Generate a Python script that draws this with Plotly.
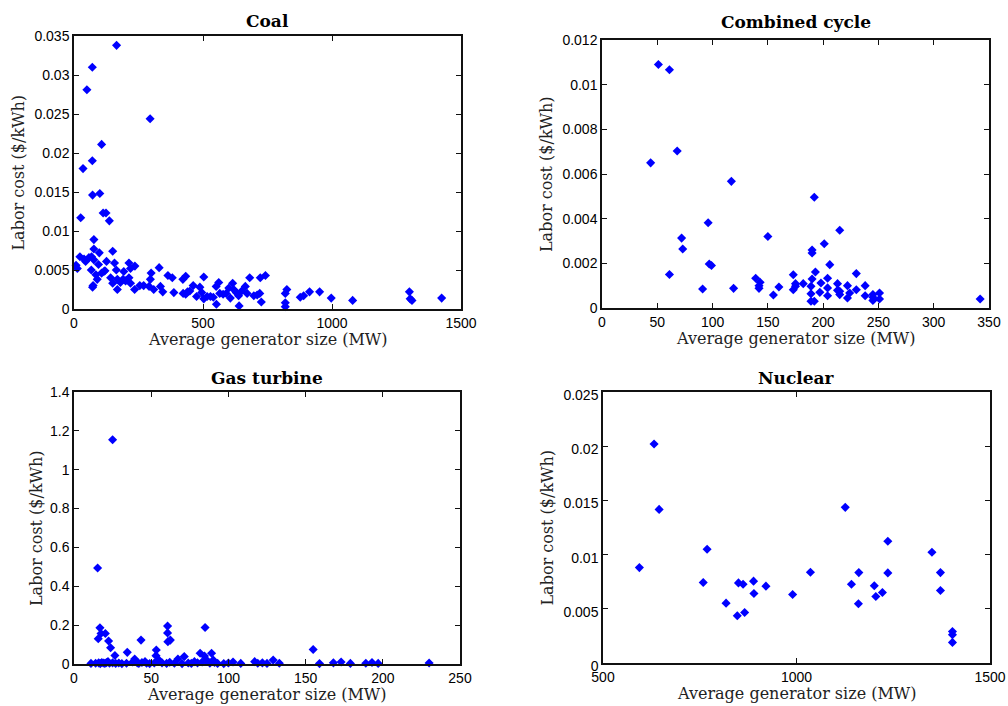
import plotly.graph_objects as go

# Coal plants: average generator size (MW) and labor cost ($/kWh)
coal_size = [165, 71, 50, 295, 107, 35, 71, 72, 100, 26, 113, 124, 137, 77, 77, 98, 150,
             13, 23, 39, 58, 68, 77, 67, 95, 90, 72, 74, 126, 116, 107, 157, 164, 142, 150,
             168, 168, 190, 193, 213, 219, 236, 213, 219, 235, 255, 291, 299, 296, 309, 330,
             335, 344, 364, 381, 387, 422, 433, 423, 433, 449, 462, 475, 488, 495, 503, 503,
             516, 529, 551, 552, 561, 565, 578, 600, 606, 615, 619, 629, 640, 638, 664, 671,
             681, 697, 720, 726, 722, 742, 819, 825, 819, 819, 877, 890, 913, 952, 997, 1080,
             1300, 1303, 1310, 1425, 8, 45, 85, 120, 180, 200, 270, 440, 540, 590, 650, 710]
coal_cost = [0.0338, 0.0310, 0.0281, 0.0244, 0.0211, 0.0180, 0.0190, 0.0146, 0.0148, 0.0117,
             0.0123, 0.0123, 0.0113, 0.0089, 0.0077, 0.0072, 0.0074,
             0.0052, 0.0067, 0.0064, 0.0066, 0.0067, 0.0063, 0.0050, 0.0057, 0.0038, 0.0028,
             0.0030, 0.0061, 0.0048, 0.0046, 0.0059, 0.0050, 0.0040, 0.0033, 0.0025, 0.0038,
             0.0038, 0.0048, 0.0059, 0.0052, 0.0055, 0.0040, 0.0033, 0.0025, 0.0030, 0.0029,
             0.0046, 0.0038, 0.0025, 0.0053, 0.0029, 0.0022, 0.0043, 0.0040, 0.0021, 0.0038,
             0.0042, 0.0020, 0.0019, 0.0023, 0.0030, 0.0016, 0.0028, 0.0021, 0.0041, 0.0013,
             0.0016, 0.0016, 0.0029, 0.0006, 0.0034, 0.0020, 0.0019, 0.0027, 0.0014, 0.0033,
             0.0025, 0.0021, 0.0004, 0.0017, 0.0029, 0.0020, 0.0040, 0.0017, 0.0020, 0.0009,
             0.0040, 0.0043, 0.0020, 0.0025, 0.0008, 0.0003, 0.0015, 0.0017, 0.0022, 0.0022,
             0.0014, 0.0011, 0.0022, 0.0013, 0.0011, 0.0014, 0.0056, 0.0061, 0.0044, 0.0049,
             0.0034, 0.0036, 0.0030, 0.0022, 0.0015, 0.0020, 0.0023, 0.0018]

# Combined cycle plants
cc_size = [44, 51, 61, 68, 61, 72, 73, 91, 96, 97, 99, 117, 119, 139, 142, 142, 143, 150,
           155, 160, 173, 173, 175, 175, 182, 190, 190, 190, 189, 189, 189, 192, 192, 193,
           197, 198, 201, 206, 204, 204, 204, 213, 213, 215, 215, 215, 222, 222, 224, 230,
           230, 238, 238, 245, 245, 251, 251, 342, 245]
cc_cost = [0.0065, 0.0109, 0.01067, 0.00703, 0.0015, 0.00313, 0.00264, 0.00085, 0.00382,
           0.00197, 0.0019, 0.00567, 0.00088, 0.00133, 0.00088, 0.0010, 0.00115, 0.0032,
           0.00058, 0.00094, 0.00149, 0.00082, 0.00097, 0.00109, 0.00109, 0.0013, 0.00246,
           0.0026, 0.00097, 0.00064, 0.0003, 0.00496, 0.0003, 0.00161, 0.0007, 0.00112,
           0.00288, 0.00194, 0.00133, 0.0009, 0.00055, 0.00109, 0.00079, 0.00348, 0.00075,
           0.0006, 0.0010, 0.00045, 0.00067, 0.00154, 0.00082, 0.0010, 0.00055, 0.00048,
           0.00034, 0.00067, 0.0004, 0.0004, 0.0006]

# Gas turbine plants
gt_size = [25, 15.3, 16.8, 15.7, 17.5, 20.3, 22.4, 23.7, 26.5, 34.5, 39.3, 43.4, 53.3, 53.1,
           60.6, 60.6, 60.8, 62.4, 67.3, 71.4, 81.7, 84.9, 84.5, 85.9, 89.1, 90.2, 129, 154.9,
           11, 14, 16, 17, 18, 19, 20, 21, 22, 23, 25, 27, 29, 31, 34, 38, 40, 41, 42, 44,
           46, 47, 49, 52, 55, 57, 60, 62, 65, 70, 74, 76, 78, 80, 83, 86, 88, 91, 93, 97,
           100, 103, 108, 117, 119, 122, 125, 133, 159, 168, 173, 179, 189, 193, 197, 230]
gt_cost = [1.154, 0.494, 0.186, 0.130, 0.157, 0.157, 0.118, 0.084, 0.044, 0.060, 0.026, 0.123,
           0.072, 0.043, 0.195, 0.160, 0.115, 0.123, 0.026, 0.038, 0.055, 0.188, 0.041, 0.020,
           0.055, 0.020, 0.020, 0.075,
           0.003, 0.004, 0.006, 0.002, 0.008, 0.005, 0.003, 0.007, 0.012, 0.004, 0.006, 0.003,
           0.005, 0.002, 0.004, 0.010, 0.015, 0.006, 0.003, 0.008, 0.012, 0.004, 0.002, 0.005,
           0.020, 0.006, 0.003, 0.009, 0.004, 0.002, 0.005, 0.003, 0.012, 0.006, 0.010, 0.015,
           0.004, 0.008, 0.003, 0.002, 0.005, 0.010, 0.003, 0.012, 0.004, 0.006, 0.003, 0.004,
           0.002, 0.006, 0.010, 0.003, 0.004, 0.008, 0.003, 0.005]

# Nuclear plants
nuc_size = [594, 632, 645, 759, 769, 818, 847, 850, 862, 866, 889, 890, 921, 990, 1036, 1126,
            1142, 1161, 1160, 1201, 1205, 1222, 1236, 1236, 1350, 1372, 1372, 1403, 1403, 1403]
nuc_cost = [0.0088, 0.0202, 0.01417, 0.00742, 0.01049, 0.00552, 0.00436, 0.00739, 0.00727,
            0.00466, 0.00755, 0.00641, 0.00709, 0.00632, 0.00837, 0.01436, 0.00727, 0.00834,
            0.00546, 0.00712, 0.00613, 0.0065, 0.01123, 0.00831, 0.01021, 0.00834, 0.00669,
            0.00291, 0.0026, 0.0019]

W, H = 1008, 706
BLUE = "#0000ff"
SERIF = "DejaVu Serif, Liberation Serif, serif"
SANS = "Liberation Sans, Arial, sans-serif"

panels = [
    # title, x, y, x-range, y-range, x ticks, y ticks,
    # plot box (left, right, top, bottom) px, title y px, y-label x px, y-tick shift px
    ("Coal", coal_size, coal_cost, [0, 1500], [0, 0.035],
     [0, 500, 1000, 1500], [0, 0.005, 0.01, 0.015, 0.02, 0.025, 0.03, 0.035],
     (74, 461, 36, 309), 21, 18, 0),
    ("Combined cycle", cc_size, cc_cost, [0, 350], [0, 0.012],
     [0, 50, 100, 150, 200, 250, 300, 350], [0, 0.002, 0.004, 0.006, 0.008, 0.01, 0.012],
     (602, 989, 40, 308), 22, 546, 0),
    ("Gas turbine", gt_size, gt_cost, [0, 250], [0, 1.4],
     [0, 50, 100, 150, 200, 250], [0, 0.2, 0.4, 0.6, 0.8, 1, 1.2, 1.4],
     (74, 460, 392, 664), 378, 36, 0),
    ("Nuclear", nuc_size, nuc_cost, [500, 1500], [0, 0.025],
     [500, 1000, 1500], [0, 0.005, 0.01, 0.015, 0.02, 0.025],
     (603, 990, 392, 663), 378, 547, 3),
]

fig = go.Figure()
annotations = []
for i, (title, xs, ys, xr, yr, xt, yt, box, title_y, ylab_x, yshift) in enumerate(panels):
    n = "" if i == 0 else str(i + 1)
    l, r, t, b = box
    fig.add_trace(go.Scatter(
        x=xs, y=ys, mode="markers", xaxis="x" + n, yaxis="y" + n,
        marker=dict(symbol="diamond", size=7, color=BLUE, line=dict(width=0)),
        showlegend=False, cliponaxis=False))
    common = dict(showgrid=False, zeroline=False, automargin=False,
                  showline=True, linecolor="#111111", linewidth=1.5, mirror="ticks",
                  ticks="inside", ticklen=5, tickcolor="#111111",
                  tickfont=dict(family=SANS, size=14, color="black"))
    fig.layout["xaxis" + n] = dict(range=xr, tickvals=xt, ticktext=[f"{v:g}" for v in xt],
                                   domain=[l / W, r / W], anchor="y" + n, **common)
    fig.layout["yaxis" + n] = dict(range=yr, tickvals=yt, ticktext=[f"{v:g}" for v in yt],
                                   domain=[1 - b / H, 1 - t / H], anchor="x" + n,
                                   ticklabelshift=yshift, **common)
    cx = (l + r) / 2
    annotations.append(dict(text=f"<b>{title}</b>", x=cx / W, y=1 - title_y / H,
                            xanchor="center", yanchor="middle",
                            xref="paper", yref="paper", showarrow=False,
                            font=dict(family=SERIF, size=17, color="black")))
    annotations.append(dict(text="Average generator size (MW)", x=cx / W, y=1 - (b + 30) / H,
                            xanchor="center", yanchor="middle",
                            xref="paper", yref="paper", showarrow=False,
                            font=dict(family=SERIF, size=16, color="#222222")))
    annotations.append(dict(text="Labor cost ($/kWh)", x=ylab_x / W,
                            y=1 - ((t + b) / 2) / H, textangle=-90,
                            xanchor="center", yanchor="middle",
                            xref="paper", yref="paper", showarrow=False,
                            font=dict(family=SERIF, size=16, color="#222222")))

fig.update_layout(width=W, height=H, template="none",
                  margin=dict(l=0, r=0, t=0, b=0, pad=0, autoexpand=False),
                  paper_bgcolor="white", plot_bgcolor="white",
                  annotations=annotations)

fig.write_html("out.html")
